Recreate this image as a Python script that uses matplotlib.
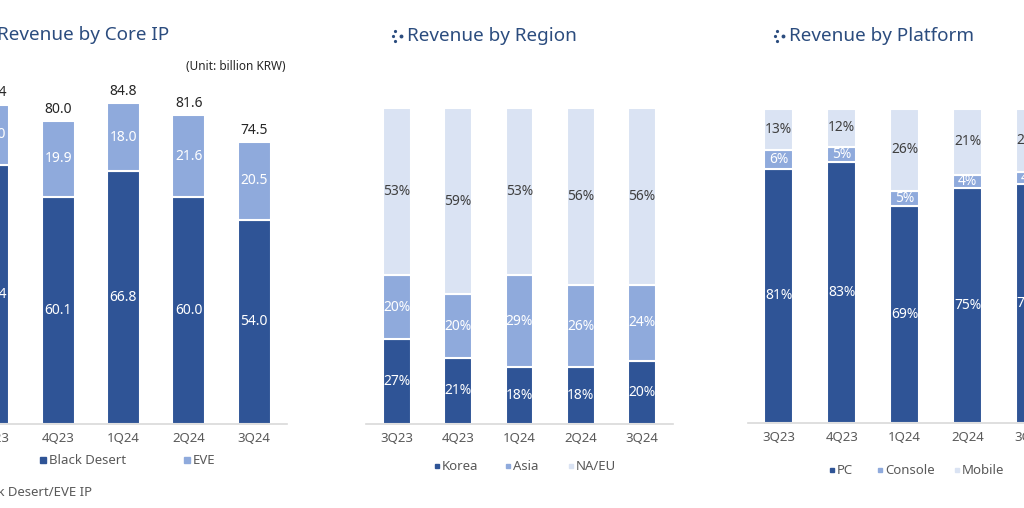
import numpy as np
import matplotlib
matplotlib.use("Agg")
import matplotlib.pyplot as plt
from matplotlib.lines import Line2D
from matplotlib.patches import Rectangle

plt.rcParams['font.family'] = ['Noto Sans', 'DejaVu Sans']

quarters = ['3Q23', '4Q23', '1Q24', '2Q24', '3Q24']

# Revenue by Core IP (billion KRW)
black_desert = [68.4, 60.1, 66.8, 60.0, 54.0]
eve = [16.0, 19.9, 18.0, 21.6, 20.5]

# Revenue by Region (%)
korea = [27, 21, 18, 18, 20]
asia = [20, 20, 29, 26, 24]
na_eu = [53, 59, 53, 56, 56]

# Revenue by Platform (%)
pc = [81, 83, 69, 75, 76]
console = [6, 5, 5, 4, 4]
mobile = [13, 12, 26, 21, 20]

DARK = '#2F5496'
MID = '#8FAADC'
LIGHT = '#DAE3F3'
TITLE = '#2B4C7E'
GREY = '#595959'

W, H = 1024, 508
fig = plt.figure(figsize=(W / 100, H / 100), dpi=100)


def px_axes(x0, x1, y_top, y_bot):
    return fig.add_axes([x0 / W, 1 - y_bot / H, (x1 - x0) / W, (y_bot - y_top) / H])


def style(ax):
    for s in ['top', 'right', 'left']:
        ax.spines[s].set_visible(False)
    ax.spines['bottom'].set_color('#D9D9D9')
    ax.spines['bottom'].set_linewidth(1.2)
    ax.set_yticks([])
    ax.set_xticks(range(len(quarters)))
    ax.set_xticklabels(quarters, fontsize=9.5, color=GREY)
    ax.tick_params(axis='x', length=0, pad=6)


def stack(ax, series, colors, width, text_colors, fmt):
    x = np.arange(len(quarters))
    bottom = np.zeros(len(quarters))
    for vals, c, tc in zip(series, colors, text_colors):
        vals = np.array(vals, dtype=float)
        ax.bar(x, vals, width, bottom=bottom, color=c, edgecolor='white', linewidth=1.5)
        for xi, b, v in zip(x, bottom, vals):
            ax.text(xi, b + v / 2, fmt(v), ha='center', va='center', fontsize=10, color=tc)
        bottom += vals
    return bottom


def title(x_icon, y, text, ha='left', x_text=None):
    fy = 1 - y / H
    if x_icon > -50:
        for dx, dy, ms in [(0, -5, 2.3), (-2, 0, 2.3), (0, 5, 2.3), (6, 0, 2.8)]:
            fig.add_artist(Line2D([(x_icon + dx) / W], [1 - (y + dy) / H], marker='o', ms=ms,
                                  mew=0, color=TITLE, transform=fig.transFigure, linestyle='none'))
    xt = x_text if x_text is not None else x_icon + 12
    fig.text(xt / W, fy, text, ha=ha, va='center', fontsize=13.6, color=TITLE)


def legend(items, y):
    for x, label, c, s in items:
        fig.add_artist(Rectangle(((x - s / 2) / W, 1 - (y + s / 2) / H), s / W, s / H,
                                 color=c, transform=fig.transFigure))
        fig.text((x + s / 2 + 3) / W, 1 - y / H, label, ha='left', va='center', fontsize=9.5, color=GREY)


# ---- Left: Revenue by Core IP ----
ax1 = px_axes(-40, 287, 424 - 96 * 3.785, 424)
stack(ax1, [black_desert, eve], [DARK, MID], 0.505, ['white', 'white'], lambda v: f'{v:.1f}')
tot = np.array(black_desert) + np.array(eve)
for xi, t in enumerate(tot):
    ax1.annotate(f'{t:.1f}', (xi, t), xytext=(0, 3), textcoords='offset points',
                 ha='center', va='bottom', fontsize=10, color='#262626', fontweight='semibold')
ax1.set_xlim(-0.505, 4.505)
ax1.set_ylim(0, 96)
style(ax1)
title(-20, 35, 'Revenue by Core IP', ha='right', x_text=169)
fig.text(285 / W, 1 - 67 / H, '(Unit: billion KRW)', ha='right', va='center', fontsize=8.5, color='#262626')
legend([(43, 'Black Desert', DARK, 6), (187, 'EVE', MID, 6)], 460)
fig.text(92 / W, 1 - 492 / H, '* Black Desert/EVE IP', ha='right', va='center', fontsize=9.5, color=GREY)

# ---- Middle: Revenue by Region ----
ax2 = px_axes(366, 673, 108, 424)
stack(ax2, [korea, asia, na_eu], [DARK, MID, LIGHT], 0.457, ['white', 'white', '#404040'],
      lambda v: f'{v:.0f}%')
ax2.set_xlim(-0.506, 4.506)
ax2.set_ylim(0, 100)
style(ax2)
title(395, 36, 'Revenue by Region')
legend([(437, 'Korea', DARK, 4), (508, 'Asia', MID, 4), (571, 'NA/EU', LIGHT, 4)], 466)

# ---- Right: Revenue by Platform ----
ax3 = px_axes(748, 748 + 5 * 62.9, 109, 423)
stack(ax3, [pc, console, mobile], [DARK, MID, LIGHT], 0.46, ['white', 'white', '#404040'],
      lambda v: f'{v:.0f}%')
ax3.set_xlim(-0.49, 4.51)
ax3.set_ylim(0, 100)
style(ax3)
title(777, 36, 'Revenue by Platform')
legend([(832, 'PC', DARK, 4), (880, 'Console', MID, 4), (957, 'Mobile', LIGHT, 4)], 470)

fig.savefig('out.png', dpi=100)
